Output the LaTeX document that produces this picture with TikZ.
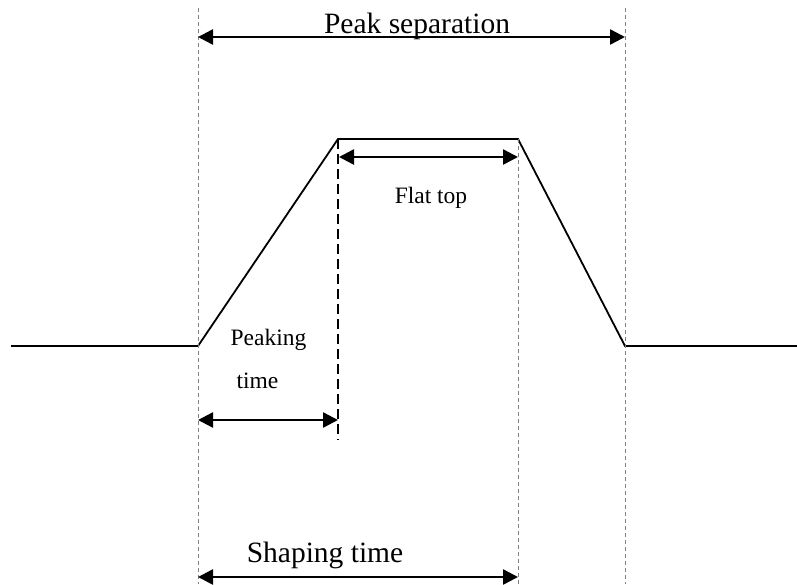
\documentclass[tikz,border=0pt]{standalone}
\usepackage{fontspec}
\setmainfont{Liberation Serif}
\usetikzlibrary{arrows.meta}
\begin{document}
\begin{tikzpicture}[x=1pt,y=-1pt,
  signal/.style={line width=1.8pt,black,line join=miter},
  guide/.style={line width=0.9pt,gray,dash pattern=on 4pt off 3pt},
  guideblack/.style={line width=1.4pt,black,dash pattern=on 10pt off 5pt},
  dim/.style={line width=2.5pt,black,{Triangle[length=15pt,width=15pt]}-{Triangle[length=15pt,width=15pt]}},
  bigtext/.style={font=\fontsize{29.5}{32}\selectfont,anchor=base,inner sep=0pt},
  smalltext/.style={font=\fontsize{23.5}{26}\selectfont,anchor=base,inner sep=0pt}]
\useasboundingbox (0,0) rectangle (797,584);
% signal points
\coordinate (s0) at (11,346);
\coordinate (s1) at (198,346);
\coordinate (s2) at (338,139);
\coordinate (s3) at (518,139);
\coordinate (s4) at (625,346);
\coordinate (s5) at (797,346);
\draw[signal] (s0) -- (s1) -- (s2) -- (s3) -- (s4) -- (s5);
% guide lines
\coordinate (g1t) at (198,8);   \coordinate (g1b) at (198,584);
\coordinate (g4t) at (625,8);   \coordinate (g4b) at (625,584);
\coordinate (g3b) at (518,584);
\coordinate (g2b) at (338,440);
\draw[guide] (g1t) -- (g1b);
\draw[guide] (g4t) -- (g4b);
\draw[guide] (s3) -- (g3b);
\draw[guideblack] (s2) -- (g2b);
% dimension arrows
\coordinate (a1l) at (198,37);  \coordinate (a1r) at (625,37);
\coordinate (a2l) at (339,157); \coordinate (a2r) at (518,157);
\coordinate (a3l) at (198,420); \coordinate (a3r) at (338,420);
\coordinate (a4l) at (198,577); \coordinate (a4r) at (518,577);
\draw[dim] (a1l) -- (a1r);
\draw[dim] (a2l) -- (a2r);
\draw[dim] (a3l) -- (a3r);
\draw[dim] (a4l) -- (a4r);
% labels
\node[bigtext] (peaksep) at (417,33) {Peak separation};
\node[smalltext] (flattop) at (431,203) {Flat top};
\node[smalltext] (peaking) at (268.5,345) {Peaking};
\node[smalltext] (time) at (257.5,388) {time};
\node[bigtext] (shaping) at (325,562) {Shaping time};
\end{tikzpicture}
\end{document}
